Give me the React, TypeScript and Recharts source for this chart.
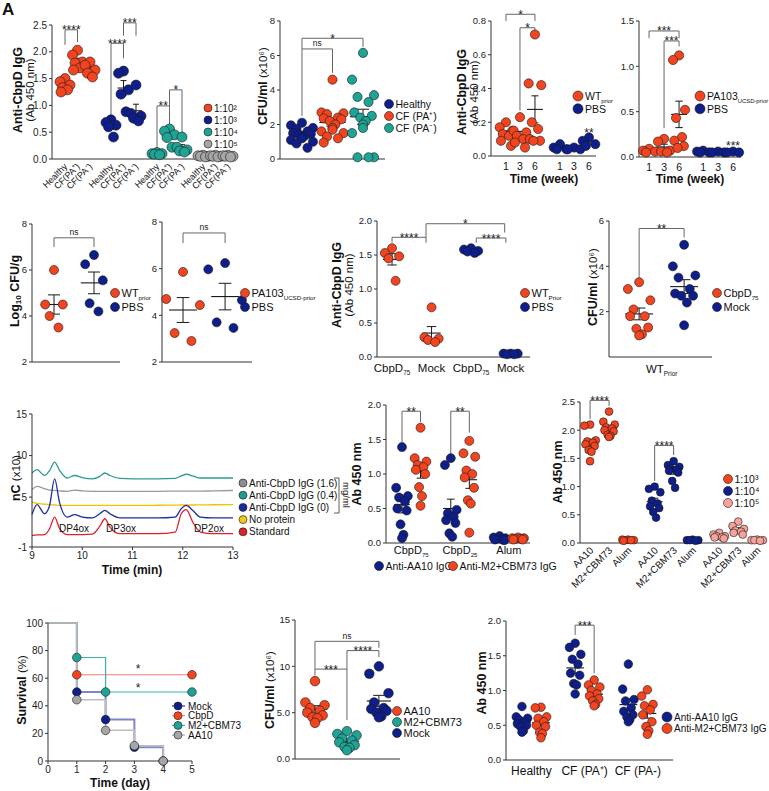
import React from 'react';
import { ScatterChart, Scatter, LineChart, Line, XAxis, YAxis, ReferenceLine } from 'recharts';

const RED = '#F2441F';
const NAVY = '#0E1E8B';
const TEAL = '#1FA395';
const GRAY = '#A6A6A6';
const PINK = '#F5A39B';
const INK = '#1a1a1a';
const AX = '#333';
const BR = '#666';
const FONT = '"Liberation Sans", Arial, Helvetica, sans-serif';

// ---- A: anti-CbpD IgG by dilution (Healthy, CF PA+, CF PA-)
const aCategories = ['Healthy', 'CF(PA⁺)', 'CF(PA⁻)'];
const aDilutions = ['1:10²', '1:10³', '1:10⁴', '1:10⁵'];
const a1e2 = [[1.5, 1.44, 1.38, 1.33, 1.29, 1.25], [2.03, 1.94, 1.81, 1.79, 1.7, 1.66], [1.81, 1.75, 1.66, 1.6, 1.53]];
const a1e3 = [[0.73, 0.68, 0.63, 0.6, 0.41], [1.64, 1.6, 1.29, 1.21, 0.88], [1.38, 0.85, 0.8, 0.76, 0.71]];
const a1e4 = [[0.12, 0.1, 0.09, 0.08, 0.1], [0.56, 0.52, 0.45, 0.4, 0.22], [0.41, 0.22, 0.17, 0.15, 0.13]];
const a1e5 = [[0.06, 0.05, 0.07, 0.04, 0.05], [0.07, 0.05, 0.06, 0.04, 0.05], [0.06, 0.05, 0.07, 0.05, 0.04]];

// ---- B: CFU/ml sputum
const bNames = ['Healthy', 'CF (PA⁺)', 'CF (PA⁻)'];
const bHealthy = [2.1, 1.95, 1.8, 1.75, 1.6, 1.5, 1.45, 1.4, 1.35, 1.3, 1.2, 1.1, 1.0, 0.9, 0.65];
const bPaPos = [4.6, 2.7, 2.65, 2.6, 2.4, 2.35, 2.3, 2.2, 2.0, 1.8, 1.7, 1.6, 1.5, 1.3, 1.2, 0.95];
const bPaNeg = [6.15, 4.6, 3.7, 3.6, 3.3, 2.7, 2.5, 2.4, 2.2, 2.0, 1.8, 1.5, 0.1, 0.1, 0.1];

// ---- C / D: time course (weeks 1, 3, 6)
const weeks = ['1', '3', '6'];
const cWT = [[0.2, 0.17, 0.15, 0.13, 0.12, 0.09, 0.06], [0.23, 0.15, 0.14, 0.12, 0.1, 0.08, 0.05], [0.72, 0.43, 0.42, 0.2, 0.16, 0.1, 0.09, 0.09]];
const cPBS = [[0.07, 0.05, 0.04, 0.04], [0.05, 0.04, 0.04], [0.11, 0.09, 0.07, 0.06]];
const dPA = [[0.09, 0.07, 0.06, 0.05], [0.2, 0.17, 0.07, 0.06, 0.05], [1.12, 1.07, 0.52, 0.43, 0.22, 0.18, 0.12, 0.1]];
const dPBS = [[0.07, 0.06, 0.05, 0.05], [0.06, 0.05, 0.05], [0.06, 0.05, 0.05]];

// ---- E / F: log10 CFU/g
const eWT = [6.0, 4.5, 4.5, 4.0, 3.5];
const ePBS = [6.65, 6.25, 5.55, 4.55, 4.2];
const fPA = [5.86, 4.7, 4.44, 3.24, 2.9];
const fPBS = [6.24, 5.97, 4.65, 3.7, 3.46];

// ---- G / H
const gWTCbpd = [1.6, 1.53, 1.48, 1.45, 1.12];
const gWTMock = [0.73, 0.29, 0.27, 0.25, 0.22];
const gPBSCbpd = [1.6, 1.58, 1.56, 1.55, 1.53];
const gPBSMock = [0.05, 0.05, 0.04, 0.05, 0.04];
const hCbpd = [3.3, 3.0, 2.5, 2.1, 1.8, 1.8, 1.3, 1.25, 1.0, 0.95];
const hMock = [4.95, 4.0, 3.6, 3.5, 3.0, 2.8, 2.7, 2.7, 2.4, 1.4];

// ---- I: chromatogram
const chromTime = [9.0, 9.1, 9.25, 9.35, 9.45, 9.55, 9.7, 9.85, 10.0, 10.2, 10.35, 10.45, 10.55, 10.75, 11.0, 11.5, 11.85, 11.97, 12.07, 12.2, 12.35, 12.6, 13.0];
const chromTeal = [7.9, 8.3, 7.6, 8.2, 9.2, 8.2, 7.3, 7.6, 7.35, 7.2, 7.5, 7.9, 7.6, 7.25, 7.2, 7.2, 7.25, 7.55, 7.75, 7.55, 7.3, 7.3, 7.3];
const chromGray = [5.9, 6.3, 6.0, 5.85, 5.8, 5.75, 5.7, 5.85, 5.75, 5.7, 5.7, 5.7, 5.7, 5.7, 5.7, 5.7, 5.72, 5.72, 5.72, 5.72, 5.72, 5.75, 5.8];
const chromYellow = [4.4, 4.25, 4.15, 4.1, 4.05, 4.0, 4.0, 4.0, 4.0, 4.0, 4.0, 4.0, 4.0, 4.0, 4.0, 4.02, 4.04, 4.05, 4.05, 4.05, 4.06, 4.08, 4.1];
const chromBlue = [2.9, 4.1, 3.0, 4.0, 7.2, 4.3, 2.6, 2.9, 2.6, 2.5, 3.0, 3.4, 3.0, 2.5, 2.5, 2.5, 2.6, 3.6, 4.0, 3.4, 2.6, 2.5, 2.5];
const chromRed = [0.4, 0.45, 0.5, 1.2, 2.6, 1.2, 0.5, 0.5, 0.5, 0.55, 1.5, 2.4, 1.4, 0.6, 0.6, 0.6, 0.8, 3.0, 3.5, 2.0, 0.8, 0.6, 0.6];
const chromNames = ['Anti-CbpD IgG (1.6)', 'Anti-CbpD IgG (0.4)', 'Anti-CbpD IgG (0)', 'No protein', 'Standard'];

// ---- J
const jBlue75 = [1.39, 0.8, 0.68, 0.66, 0.6, 0.5, 0.47, 0.27, 0.12, 0.07];
const jRed75 = [1.67, 1.23, 1.18, 1.13, 1.1, 1.06, 1.0, 0.81, 0.68, 0.54];
const jBlue25 = [1.23, 1.13, 0.48, 0.43, 0.38, 0.33, 0.29, 0.14, 0.09];
const jRed25 = [1.48, 1.3, 1.25, 1.05, 1.0, 0.95, 0.8, 0.62, 0.57, 0.15];
const jBlueAlum = [0.1, 0.08, 0.07, 0.06, 0.05, 0.05, 0.04];
const jRedAlum = [0.08, 0.07, 0.06, 0.05, 0.05, 0.06, 0.07];

// ---- K
const kCats = ['AA10', 'M2+CBM73', 'Alum'];
const kDilutions = ['1:10³', '1:10⁴', '1:10⁵'];
const k1e3 = [[2.1, 2.08, 1.82, 1.8, 1.78, 1.75, 1.72, 1.65, 1.62, 1.45], [2.33, 2.15, 2.1, 2.05, 2.03, 2.0, 1.98, 1.92, 1.9, 1.88], [0.06, 0.05, 0.05, 0.04, 0.05, 0.06]];
const k1e4 = [[1.0, 0.96, 0.9, 0.75, 0.7, 0.65, 0.62, 0.55, 0.45], [1.45, 1.38, 1.35, 1.32, 1.3, 1.28, 1.25, 1.1, 0.98], [0.05, 0.05, 0.04, 0.05, 0.06]];
const k1e5 = [[0.18, 0.15, 0.12, 0.1, 0.1, 0.08, 0.12], [0.38, 0.3, 0.25, 0.22, 0.2, 0.18, 0.15], [0.05, 0.05, 0.04, 0.05, 0.06]];

// ---- L: survival
const survNames = ['Mock', 'CbpD', 'M2+CBM73', 'AA10'];
const survMockDays = [0, 1, 2, 3, 4];
const survMock = [100, 50, 30, 10, 0];
const survCbpdDays = [0, 1, 5];
const survCbpd = [100, 62.5, 62.5];
const survM2Days = [0, 1, 2, 5];
const survM2 = [100, 75, 50, 50];
const survAA10Days = [0, 1, 2, 3, 4];
const survAA10 = [100, 44.4, 22.2, 11.1, 0];

// ---- M
const mNames = ['AA10', 'M2+CBM73', 'Mock'];
const mAA10 = [8.4, 6.1, 5.8, 5.5, 5.2, 5.0, 4.7, 4.5, 4.4, 3.9];
const mM2 = [3.0, 2.7, 2.55, 2.2, 2.0, 1.8, 1.5, 1.3, 1.2, 0.95];
const mMock = [10.0, 9.2, 7.1, 6.1, 5.5, 5.4, 5.2, 5.0, 4.6, 4.5];

// ---- N
const nCats = ['Healthy', 'CF (PA⁺)', 'CF (PA-)'];
const nAA10 = [[0.77, 0.62, 0.6, 0.58, 0.55, 0.52, 0.5, 0.48, 0.42, 0.4], [1.68, 1.62, 1.52, 1.45, 1.38, 1.25, 1.22, 1.1, 1.08, 0.95], [1.38, 1.02, 0.87, 0.85, 0.75, 0.7, 0.65, 0.62, 0.58, 0.55]];
const nM2 = [[0.76, 0.75, 0.62, 0.6, 0.55, 0.5, 0.48, 0.4, 0.38, 0.32], [1.15, 1.08, 1.05, 1.0, 0.95, 0.92, 0.88, 0.85, 0.8, 0.78], [1.01, 0.92, 0.8, 0.78, 0.72, 0.65, 0.55, 0.48, 0.42, 0.37]];

type Group = { pos: number; vals: number[]; color: string };
type Bracket = { a: number; b: number; y: number; la: number; lb: number; t: string };
type Note = { x: number; y: number; t: string };

const f1 = (v: number) => v.toFixed(1);
const f0 = (v: number) => String(v);

function stats(v: number[]) {
  const n = v.length;
  const m = v.reduce((s, x) => s + x, 0) / n;
  const sd = Math.sqrt(v.reduce((s, x) => s + (x - m) ** 2, 0) / (n - 1));
  return { m, sem: sd / Math.sqrt(n) };
}

const SPREAD = [0, -1, 1, -0.5, 0.5, -0.8, 0.8, -0.25, 0.25, 0];
function placed(g: Group, w: number) {
  const order = [...g.vals].sort((p, q) => q - p);
  return order.map((v, k) => ({ x: g.pos + SPREAD[k % SPREAD.length] * w, y: v }));
}

function seg(key: string, xa: number, ya: number, xb: number, yb: number, w = 1, c = INK) {
  return (
    <ReferenceLine key={key} segment={[{ x: xa, y: ya }, { x: xb, y: yb }]} stroke={c} strokeWidth={w} ifOverflow="visible" />
  );
}

const labelShape = (t: string, line: boolean) => (sp: any) => {
  const ns = t === 'ns';
  const cx = (sp.x1 + sp.x2) / 2;
  return (
    <g>
      {line && <line x1={sp.x1} y1={sp.y1} x2={sp.x2} y2={sp.y2} stroke={BR} strokeWidth={1} />}
      <text x={cx} y={ns ? sp.y1 - 2.5 : sp.y1 + 4.5} textAnchor="middle" fontSize={ns ? 8.5 : 12} fill="#222">
        {t}
      </text>
    </g>
  );
};

type DotProps = {
  box: [number, number, number, number];
  xd: [number, number];
  yd: [number, number];
  yTicks: number[];
  yFmt?: (v: number) => string;
  groups: Group[];
  r?: number;
  spread?: number;
  meanW?: number;
  capW?: number;
  brackets?: Bracket[];
  notes?: Note[];
  xTicks?: number[];
  xTick?: (tp: any) => React.ReactElement;
  tf?: number;
};

function DotPanel(p: DotProps) {
  const [x0, x1, y0, y1] = p.box;
  const YW = 40, MT = 28, MR = 14, XH = 46;
  const r = p.r ?? 4.5;
  const mw = p.meanW ?? 0.4;
  const cw = p.capW ?? 0.2;
  const refs: React.ReactElement[] = [];
  p.groups.forEach((g, gi) => {
    const { m, sem } = stats(g.vals);
    refs.push(seg(`m${gi}`, g.pos - mw, m, g.pos + mw, m, 1.1));
    refs.push(seg(`e${gi}`, g.pos, m - sem, g.pos, m + sem));
    refs.push(seg(`t${gi}`, g.pos - cw, m + sem, g.pos + cw, m + sem));
    refs.push(seg(`b${gi}`, g.pos - cw, m - sem, g.pos + cw, m - sem));
  });
  (p.brackets ?? []).forEach((b, bi) => {
    refs.push(seg(`la${bi}`, b.a, b.la, b.a, b.y, 1, BR));
    refs.push(seg(`lb${bi}`, b.b, b.lb, b.b, b.y, 1, BR));
    refs.push(
      <ReferenceLine key={`h${bi}`} segment={[{ x: b.a, y: b.y }, { x: b.b, y: b.y }]} ifOverflow="visible" shape={labelShape(b.t, true)} />
    );
  });
  (p.notes ?? []).forEach((n, ni) => {
    refs.push(
      <ReferenceLine key={`n${ni}`} segment={[{ x: n.x, y: n.y }, { x: n.x, y: n.y }]} ifOverflow="visible" shape={labelShape(n.t, false)} />
    );
  });
  return (
    <div style={{ position: 'absolute', left: x0 - YW, top: y0 - MT }}>
      <ScatterChart width={x1 - x0 + YW + MR} height={y1 - y0 + MT + XH} margin={{ top: MT, right: MR, bottom: 0, left: 0 }}>
        <XAxis
          type="number"
          dataKey="x"
          domain={p.xd}
          ticks={p.xTicks}
          interval={0}
          height={XH}
          tick={p.xTick ?? false}
          tickLine={false}
          tickSize={3}
          tickMargin={2}
          axisLine={{ stroke: AX }}
        />
        <YAxis
          type="number"
          dataKey="y"
          domain={p.yd}
          ticks={p.yTicks}
          interval={0}
          width={YW}
          tickSize={3}
          tickMargin={2}
          tick={{ fontSize: p.tf ?? 9.5, fill: '#222' }}
          tickLine={{ stroke: AX }}
          axisLine={{ stroke: AX }}
          tickFormatter={p.yFmt ?? f0}
        />
        {p.groups.map((g, gi) => (
          <Scatter
            key={gi}
            data={placed(g, p.spread ?? 0.3)}
            isAnimationActive={false}
            shape={(s: any) => <circle cx={s.cx} cy={s.cy} r={r} fill={g.color} stroke={INK} strokeWidth={0.6} />}
          />
        ))}
        {refs}
      </ScatterChart>
    </div>
  );
}

const flatTick = (labels: React.ReactNode[], size = 10, dy = 9) => (tp: any) => (
  <text x={tp.x} y={tp.y + dy} textAnchor="middle" fontSize={size} fill="#111">
    {labels[tp.index]}
  </text>
);

const rotTick = (labels: string[], size = 9, dx = 3, dy = 3) => (tp: any) => (
  <text
    x={tp.x + dx}
    y={tp.y + dy}
    transform={`rotate(-45 ${tp.x + dx} ${tp.y + dy})`}
    textAnchor="end"
    fontSize={size}
    fill="#111"
  >
    {labels[tp.index]}
  </text>
);

const Sub = ({ children }: { children: React.ReactNode }) => (
  <tspan fontSize="0.56em" dy={3}>
    {children}
  </tspan>
);

function VLabel({ x, y, size = 12, children }: { x: number; y: number; size?: number; children: React.ReactNode }) {
  return (
    <text x={x} y={y} transform={`rotate(-90 ${x} ${y})`} textAnchor="middle" dominantBaseline="central" fontSize={size} fill="#111">
      {children}
    </text>
  );
}

function DotLegend({ x, y, dy, r = 4.5, size = 10.5, gap = 6, items }: { x: number; y: number; dy: number; r?: number; size?: number; gap?: number; items: [string, React.ReactNode][] }) {
  return (
    <g>
      {items.map(([c, t], i) => (
        <g key={i}>
          <circle cx={x} cy={y + i * dy} r={r} fill={c} stroke={INK} strokeWidth={0.6} />
          <text x={x + r + gap - 4} y={y + i * dy + size * 0.36} fontSize={size} fill="#111">
            {t}
          </text>
        </g>
      ))}
    </g>
  );
}

export default function App() {
  // A
  const aSeries = [a1e2, a1e3, a1e4, a1e5];
  const aColors = [RED, NAVY, TEAL, GRAY];
  const aGroups: Group[] = aSeries.flatMap((s, g) => s.map((vals, m) => ({ pos: g * 3.68 + m, vals, color: aColors[g] })));
  const aLabels = aSeries.flatMap(() => aCategories);

  // C / D
  const cPos = [0, 1, 2.07];
  const cGroups: Group[] = [
    ...cWT.map((vals, i) => ({ pos: cPos[i], vals, color: RED })),
    ...cPBS.map((vals, i) => ({ pos: cPos[i] + 3.86, vals, color: NAVY })),
  ];
  const dGroups: Group[] = [
    ...dPA.map((vals, i) => ({ pos: i, vals, color: RED })),
    ...dPBS.map((vals, i) => ({ pos: i + 3.6, vals, color: NAVY })),
  ];

  // J
  const jGroups: Group[] = [
    { pos: 0, vals: jBlue75, color: NAVY },
    { pos: 0.95, vals: jRed75, color: RED },
    { pos: 2.5, vals: jBlue25, color: NAVY },
    { pos: 3.45, vals: jRed25, color: RED },
    { pos: 5.0, vals: jBlueAlum, color: NAVY },
    { pos: 5.95, vals: jRedAlum, color: RED },
  ];

  // K
  const kSeries = [k1e3, k1e4, k1e5];
  const kColors = [RED, NAVY, PINK];
  const kGroups: Group[] = kSeries.flatMap((s, g) => s.map((vals, m) => ({ pos: g * 3.4 + m, vals, color: kColors[g] })));
  const kLabels = kSeries.flatMap(() => kCats);

  // N
  const nGroups: Group[] = [0, 1, 2].flatMap((g) => [
    { pos: g * 2.8, vals: nAA10[g], color: NAVY },
    { pos: g * 2.8 + 1, vals: nM2[g], color: RED },
  ]);

  const chromRows = chromTime.map((t, i) => ({
    t,
    teal: chromTeal[i],
    gray: chromGray[i],
    yellow: chromYellow[i],
    blue: chromBlue[i],
    red: chromRed[i],
  }));

  const survLines = [
    { days: survMockDays, vals: survMock, line: '#7F85CC', w: 2, dot: NAVY },
    { days: survCbpdDays, vals: survCbpd, line: '#F47F6E', w: 1.2, dot: RED },
    { days: survM2Days, vals: survM2, line: '#3FB3A7', w: 1.2, dot: TEAL },
    { days: survAA10Days, vals: survAA10, line: '#BDBDBD', w: 1.5, dot: GRAY },
  ];

  const twoLine = (x: number, y: number) => (
    <g>
      <VLabel x={x} y={y} size={12.5}>
        <tspan fontWeight="bold">Anti-CbpD IgG</tspan>
      </VLabel>
      <VLabel x={x + 12} y={y} size={11.5}>
        (Ab 450 nm)
      </VLabel>
    </g>
  );
  const cfuLabel = (x: number, y: number) => (
    <VLabel x={x} y={y} size={11.5}>
      <tspan fontWeight="bold" fontSize={12.5}>CFU/ml</tspan> (x10⁶)
    </VLabel>
  );
  const abLabel = (x: number, y: number) => (
    <VLabel x={x} y={y} size={12.5}>
      <tspan fontWeight="bold">Ab 450 nm</tspan>
    </VLabel>
  );

  return (
    <div style={{ position: 'absolute', left: 0, top: 0, width: 769, height: 791, background: '#fff', overflow: 'hidden', fontFamily: FONT }}>
      {/* A */}
      <DotPanel
        box={[52, 235, 25, 159]}
        xd={[-1.04, 13.6]}
        yd={[0, 2.5]}
        yTicks={[0, 0.5, 1, 1.5, 2, 2.5]}
        yFmt={f1}
        tf={10}
        groups={aGroups}
        r={5}
        spread={0.4}
        meanW={0.48}
        capW={0.24}
        xTicks={aGroups.map((g) => g.pos)}
        xTick={rotTick(aLabels, 9)}
        brackets={[
          { a: 0, b: 1, y: 2.41, la: 2.13, lb: 2.18, t: '****' },
          { a: 3.68, b: 4.68, y: 2.16, la: 0.78, lb: 1.88, t: '****' },
          { a: 4.68, b: 5.68, y: 2.54, la: 2.3, lb: 2.3, t: '***' },
          { a: 7.36, b: 8.36, y: 0.99, la: 0.17, lb: 0.62, t: '**' },
          { a: 8.36, b: 9.36, y: 1.29, la: 0.99, lb: 0.5, t: '*' },
        ]}
      />
      {/* B */}
      <DotPanel
        box={[280, 385, 21, 159]}
        xd={[0.28, 3.72]}
        yd={[0, 8]}
        yTicks={[0, 2, 4, 6, 8]}
        groups={[
          { pos: 1, vals: bHealthy, color: NAVY },
          { pos: 2, vals: bPaPos, color: RED },
          { pos: 3, vals: bPaNeg, color: TEAL },
        ]}
        r={4.6}
        spread={0.36}
        meanW={0.43}
        capW={0.2}
        brackets={[
          { a: 1, b: 2, y: 6.38, la: 2.5, lb: 5.0, t: 'ns' },
          { a: 1, b: 3, y: 7.0, la: 6.38, lb: 6.5, t: '*' },
        ]}
      />
      {/* C */}
      <DotPanel
        box={[491, 596, 21, 156]}
        xd={[-1.07, 6.43]}
        yd={[0, 0.8]}
        yTicks={[0, 0.2, 0.4, 0.6, 0.8]}
        yFmt={f1}
        groups={cGroups}
        r={4.6}
        spread={0.45}
        meanW={0.57}
        capW={0.25}
        xTicks={cGroups.map((g) => g.pos)}
        xTick={flatTick([...weeks, ...weeks], 10.5, 9)}
        brackets={[
          { a: 0, b: 2.07, y: 0.84, la: 0.8, lb: 0.8, t: '*' },
          { a: 1, b: 2.07, y: 0.76, la: 0.27, lb: 0.74, t: '*' },
        ]}
        notes={[{ x: 5.93, y: 0.14, t: '**' }]}
      />
      {/* D */}
      <DotPanel
        box={[639, 741, 21, 157]}
        xd={[-0.67, 6.13]}
        yd={[0, 1.5]}
        yTicks={[0, 0.5, 1, 1.5]}
        yFmt={f1}
        groups={dGroups}
        r={4.6}
        spread={0.4}
        meanW={0.53}
        capW={0.25}
        xTicks={dGroups.map((g) => g.pos)}
        xTick={flatTick([...weeks, ...weeks], 10.5, 9)}
        brackets={[
          { a: 0, b: 2, y: 1.39, la: 1.31, lb: 1.31, t: '***' },
          { a: 1, b: 2, y: 1.28, la: 0.32, lb: 1.22, t: '***' },
        ]}
        notes={[{ x: 5.6, y: 0.13, t: '***' }]}
      />
      {/* E */}
      <DotPanel
        box={[32, 120, 224, 362]}
        xd={[0.45, 2.65]}
        yd={[2, 8]}
        yTicks={[2, 4, 6, 8]}
        groups={[
          { pos: 1, vals: eWT, color: RED },
          { pos: 2, vals: ePBS, color: NAVY },
        ]}
        spread={0.22}
        meanW={0.33}
        capW={0.15}
        brackets={[{ a: 1, b: 2, y: 7.4, la: 7.0, lb: 7.0, t: 'ns' }]}
      />
      {/* F */}
      <DotPanel
        box={[162, 252, 222, 362]}
        xd={[0.5, 2.64]}
        yd={[2, 8]}
        yTicks={[2, 4, 6, 8]}
        groups={[
          { pos: 1, vals: fPA, color: RED },
          { pos: 2, vals: fPBS, color: NAVY },
        ]}
        spread={0.4}
        meanW={0.33}
        capW={0.15}
        brackets={[{ a: 1, b: 2, y: 7.53, la: 7.1, lb: 7.1, t: 'ns' }]}
      />
      {/* G */}
      <DotPanel
        box={[377, 530, 221, 357]}
        xd={[0.62, 4.49]}
        yd={[0, 2]}
        yTicks={[0, 0.5, 1, 1.5, 2]}
        yFmt={f1}
        groups={[
          { pos: 1, vals: gWTCbpd, color: RED },
          { pos: 2, vals: gWTMock, color: RED },
          { pos: 3, vals: gPBSCbpd, color: NAVY },
          { pos: 4, vals: gPBSMock, color: NAVY },
        ]}
        spread={0.18}
        meanW={0.23}
        capW={0.12}
        xTicks={[1, 2, 3, 4]}
        xTick={flatTick([<>CbpD<Sub>75</Sub></>, 'Mock', <>CbpD<Sub>75</Sub></>, 'Mock'], 11.5, 10)}
        brackets={[
          { a: 1, b: 1.86, y: 1.76, la: 1.68, lb: 1.68, t: '****' },
          { a: 1.86, b: 3.85, y: 1.96, la: 1.76, lb: 1.83, t: '*' },
          { a: 3.13, b: 3.88, y: 1.75, la: 1.68, lb: 1.68, t: '****' },
        ]}
      />
      {/* H */}
      <DotPanel
        box={[609, 712, 221, 357]}
        xd={[0.33, 2.62]}
        yd={[0, 6]}
        yTicks={[2, 4, 6]}
        groups={[
          { pos: 1, vals: hCbpd, color: RED },
          { pos: 2, vals: hMock, color: NAVY },
        ]}
        spread={0.25}
        meanW={0.31}
        capW={0.14}
        xTicks={[1.5]}
        xTick={flatTick([<>WT<Sub>Prior</Sub></>], 11.5, 11)}
        brackets={[{ a: 1, b: 2, y: 5.67, la: 3.5, lb: 5.27, t: '**' }]}
      />
      {/* I: chromatogram */}
      <div style={{ position: 'absolute', left: 32 - 40, top: 414 - 10 }}>
        <LineChart width={233 - 32 + 40 + 10} height={547 - 414 + 10 + 30} data={chromRows} margin={{ top: 10, right: 10, bottom: 0, left: 0 }}>
          <XAxis type="number" dataKey="t" domain={[9, 13]} ticks={[9, 10, 11, 12, 13]} interval={0} height={30} tickSize={3} tickMargin={2} tick={{ fontSize: 10, fill: '#222' }} tickLine={{ stroke: AX }} axisLine={{ stroke: AX }} />
          <YAxis type="number" domain={[-1, 15]} ticks={[-1, 5, 10, 15]} interval={0} width={40} tickSize={3} tickMargin={2} tick={{ fontSize: 10, fill: '#222' }} tickLine={{ stroke: AX }} axisLine={{ stroke: AX }} />
          <Line dataKey="teal" type="monotone" stroke="#2A9D8F" strokeWidth={1.3} dot={false} isAnimationActive={false} />
          <Line dataKey="gray" type="monotone" stroke="#9A9A9A" strokeWidth={1.3} dot={false} isAnimationActive={false} />
          <Line dataKey="yellow" type="monotone" stroke="#F2C200" strokeWidth={1.3} dot={false} isAnimationActive={false} />
          <Line dataKey="blue" type="monotone" stroke="#1F2FA0" strokeWidth={1.3} dot={false} isAnimationActive={false} />
          <Line dataKey="red" type="monotone" stroke="#E0202A" strokeWidth={1.3} dot={false} isAnimationActive={false} />
        </LineChart>
      </div>
      {/* J */}
      <DotPanel
        box={[386, 530, 405, 543]}
        xd={[-0.82, 6.56]}
        yd={[0, 2]}
        yTicks={[0, 0.5, 1, 1.5, 2]}
        yFmt={f1}
        groups={jGroups}
        spread={0.3}
        meanW={0.4}
        capW={0.2}
        xTicks={[0.475, 2.975, 5.475]}
        xTick={flatTick([<>CbpD<Sub>75</Sub></>, <>CbpD<Sub>25</Sub></>, 'Alum'], 11, 6)}
        brackets={[
          { a: 0, b: 0.95, y: 1.91, la: 1.46, lb: 1.75, t: '**' },
          { a: 2.5, b: 3.45, y: 1.91, la: 1.25, lb: 1.6, t: '**' },
        ]}
      />
      {/* K */}
      <DotPanel
        box={[580, 765, 402, 543]}
        xd={[-0.53, 9.21]}
        yd={[0, 2.5]}
        yTicks={[0, 0.5, 1, 1.5, 2, 2.5]}
        yFmt={f1}
        groups={kGroups}
        r={3.9}
        spread={0.3}
        meanW={0.42}
        capW={0.2}
        xTicks={kGroups.map((g) => g.pos)}
        xTick={rotTick(kLabels, 10, 4, 3)}
        brackets={[
          { a: 0, b: 1, y: 2.53, la: 2.2, lb: 2.43, t: '****' },
          { a: 3.4, b: 4.4, y: 1.73, la: 1.1, lb: 1.56, t: '****' },
        ]}
      />
      {/* L: survival */}
      <div style={{ position: 'absolute', left: 48 - 40, top: 623 - 10 }}>
        <LineChart width={192 - 48 + 40 + 10} height={761 - 623 + 10 + 26} margin={{ top: 10, right: 10, bottom: 0, left: 0 }}>
          <XAxis type="number" dataKey="x" domain={[0, 5]} ticks={[0, 1, 2, 3, 4, 5]} interval={0} height={26} tickSize={3} tickMargin={2} tick={{ fontSize: 10, fill: '#222' }} tickLine={{ stroke: AX }} axisLine={{ stroke: AX }} />
          <YAxis type="number" dataKey="y" domain={[0, 100]} ticks={[0, 20, 40, 60, 80, 100]} interval={0} width={40} tickSize={3} tickMargin={2} tick={{ fontSize: 10, fill: '#222' }} tickLine={{ stroke: AX }} axisLine={{ stroke: AX }} />
          {survLines.map((s, si) => (
            <Line
              key={si}
              data={s.days.map((d, i) => ({ x: d, y: s.vals[i] }))}
              dataKey="y"
              type="stepAfter"
              stroke={s.line}
              strokeWidth={s.w}
              isAnimationActive={false}
              dot={(dp: any) =>
                dp.index === 0 ? (
                  <g key={`d${si}-${dp.index}`} />
                ) : (
                  <circle key={`d${si}-${dp.index}`} cx={dp.cx} cy={dp.cy} r={4.3} fill={s.dot} stroke={INK} strokeWidth={0.6} />
                )
              }
            />
          ))}
        </LineChart>
      </div>
      {/* M */}
      <DotPanel
        box={[295, 400, 620, 759]}
        xd={[0.375, 3.66]}
        yd={[0, 15]}
        yTicks={[0, 5, 10, 15]}
        yFmt={(v) => (v < 10 ? v.toFixed(1) : String(v))}
        groups={[
          { pos: 1, vals: mAA10, color: RED },
          { pos: 2, vals: mM2, color: TEAL },
          { pos: 3, vals: mMock, color: NAVY },
        ]}
        r={4.8}
        spread={0.3}
        meanW={0.38}
        capW={0.18}
        brackets={[
          { a: 1, b: 2, y: 9.7, la: 9.0, lb: 4.2, t: '***' },
          { a: 2, b: 3, y: 11.7, la: 9.7, lb: 11.0, t: '****' },
          { a: 1, b: 3, y: 12.7, la: 9.7, lb: 12.0, t: 'ns' },
        ]}
      />
      {/* N */}
      <DotPanel
        box={[506, 673, 621, 760]}
        xd={[-0.84, 7.95]}
        yd={[0, 2]}
        yTicks={[0, 0.5, 1, 1.5, 2]}
        yFmt={f1}
        groups={nGroups}
        r={4.3}
        spread={0.3}
        meanW={0.47}
        capW={0.22}
        xTicks={[0.5, 3.3, 6.1]}
        xTick={flatTick(nCats, 12, 10)}
        brackets={[{ a: 2.8, b: 3.8, y: 1.94, la: 1.8, lb: 1.25, t: '***' }]}
      />

      {/* overlay texts */}
      <svg width={769} height={791} style={{ position: 'absolute', left: 0, top: 0, pointerEvents: 'none' }}>
        <text x={2} y={15} fontSize={17} fontWeight="bold" fill="#111">A</text>

        {/* A */}
        {twoLine(18, 90)}
        <DotLegend x={208} y={108} dy={12} r={4} size={10} items={aDilutions.map((d, i) => [aColors[i], d] as [string, React.ReactNode])} />

        {/* B */}
        {cfuLabel(263, 86)}
        <DotLegend x={389} y={104} dy={12} size={10.5} items={[[NAVY, bNames[0]], [RED, bNames[1]], [TEAL, bNames[2]]]} />

        {/* C */}
        {twoLine(462, 92)}
        <text x={544} y={183} textAnchor="middle" fontSize={12} fontWeight="bold" fill="#111">Time (week)</text>
        <DotLegend x={578} y={96} dy={12.8} r={5} size={10.5} items={[[RED, <>WT<Sub>prior</Sub></>], [NAVY, 'PBS']]} />

        {/* D */}
        <text x={690} y={183} textAnchor="middle" fontSize={12} fontWeight="bold" fill="#111">Time (week)</text>
        <DotLegend x={700} y={96} dy={12.8} r={5} size={10.5} items={[[RED, <>PA103<Sub>UCSD-prior</Sub></>], [NAVY, 'PBS']]} />

        {/* E / F */}
        <VLabel x={15} y={291} size={12.5}>
          <tspan fontWeight="bold">Log<tspan fontSize="0.65em" dy={3}>10</tspan><tspan dy={-3}> CFU/g</tspan></tspan>
        </VLabel>
        <DotLegend x={115} y={293} dy={14} size={11} items={[[RED, <>WT<Sub>prior</Sub></>], [NAVY, 'PBS']]} />
        <DotLegend x={245} y={293} dy={14} size={11} items={[[RED, <>PA103<Sub>UCSD-prior</Sub></>], [NAVY, 'PBS']]} />

        {/* G / H */}
        {twoLine(337, 285)}
        <DotLegend x={525} y={293} dy={14} size={11} items={[[RED, <>WT<Sub>Prior</Sub></>], [NAVY, 'PBS']]} />
        {cfuLabel(593, 287)}
        <DotLegend x={717} y={293} dy={14} size={11} items={[[RED, <>CbpD<Sub>75</Sub></>], [NAVY, 'Mock']]} />

        {/* I */}
        <VLabel x={16} y={478} size={11.5}>
          <tspan fontWeight="bold" fontSize={12.5}>nC</tspan> (x10)
        </VLabel>
        <DotLegend
          x={243}
          y={483}
          dy={12.2}
          r={4}
          size={10}
          items={[
            ['#8E8E8E', chromNames[0]],
            ['#1E9E8E', chromNames[1]],
            ['#1B2A9A', chromNames[2]],
            ['#F5C518', chromNames[3]],
            ['#D9232B', chromNames[4]],
          ]}
        />
        <path d="M334,478 H339 V513 H334" fill="none" stroke="#333" strokeWidth={0.8} />
        <text x={343} y={495} transform="rotate(90 343 495)" textAnchor="middle" fontSize={9.5} fill="#111">mg/ml</text>
        <text x={132} y={574} textAnchor="middle" fontSize={12} fontWeight="bold" fill="#111">Time (min)</text>
        <text x={59} y={532} fontSize={10} fill="#111">DP4ox</text>
        <text x={106} y={532} fontSize={10} fill="#111">DP3ox</text>
        <text x={194} y={532} fontSize={10} fill="#111">DP2ox</text>

        {/* J */}
        {abLabel(357, 474)}
        <DotLegend x={379} y={566} dy={0} size={10.5} items={[[NAVY, 'Anti-AA10 IgG']]} />
        <DotLegend x={453} y={566} dy={0} size={10.5} items={[[RED, 'Anti-M2+CBM73 IgG']]} />

        {/* K */}
        {abLabel(558, 472)}
        <DotLegend x={728} y={479} dy={12} size={10.5} items={kDilutions.map((d, i) => [kColors[i], d] as [string, React.ReactNode])} />

        {/* L */}
        <VLabel x={22} y={690} size={11.5}>
          <tspan fontWeight="bold" fontSize={12.5}>Survival</tspan> (%)
        </VLabel>
        <text x={120} y={787} textAnchor="middle" fontSize={12} fontWeight="bold" fill="#111">Time (day)</text>
        <text x={138} y={673} textAnchor="middle" fontSize={12} fill="#222">*</text>
        <text x={138} y={692} textAnchor="middle" fontSize={12} fill="#222">*</text>
        {survLines.map((s, i) => (
          <g key={i}>
            <line x1={172} y1={706 + i * 9.7} x2={185} y2={706 + i * 9.7} stroke={s.line} strokeWidth={s.w} />
            <circle cx={178} cy={706 + i * 9.7} r={4} fill={s.dot} stroke={INK} strokeWidth={0.6} />
            <text x={188} y={706 + i * 9.7 + 3.6} fontSize={10} fill="#111">{survNames[i]}</text>
          </g>
        ))}

        {/* M */}
        {cfuLabel(270, 690)}
        <DotLegend x={397} y={711} dy={11} size={11} items={[[RED, mNames[0]], [TEAL, mNames[1]], [NAVY, mNames[2]]]} />

        {/* N */}
        {abLabel(482, 683)}
        <DotLegend x={667} y={717} dy={11.5} r={5} size={10} items={[[NAVY, 'Anti-AA10 IgG'], [RED, 'Anti-M2+CBM73 IgG']]} />
      </svg>
    </div>
  );
}
